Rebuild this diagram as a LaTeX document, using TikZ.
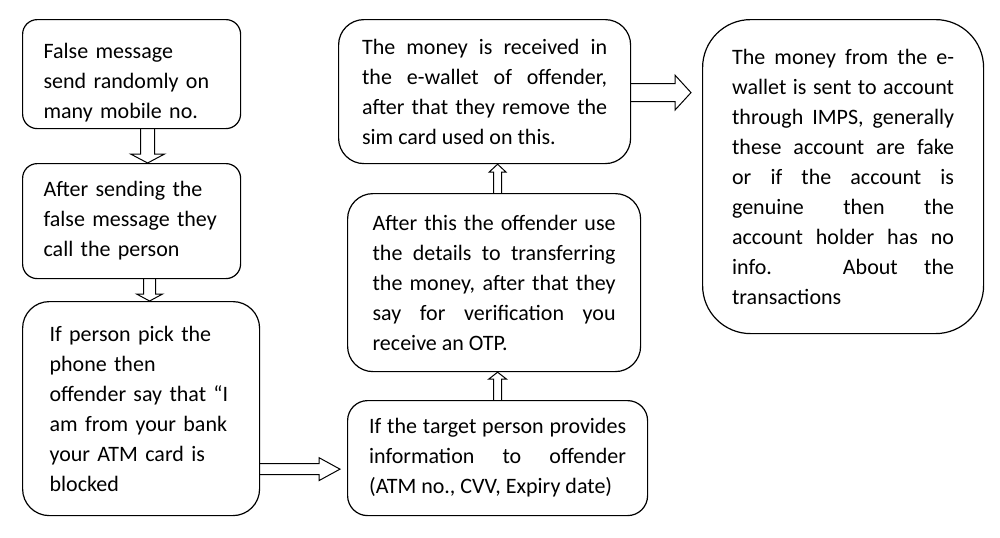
\documentclass[tikz,border=0pt]{standalone}
\usepackage{fontspec}
\setmainfont{Carlito}
\usetikzlibrary{calc}
\exhyphenpenalty=10000
\hyphenpenalty=10000

\tikzset{
  flow/.style={draw, line width=0.9pt, inner sep=0pt, anchor=north west,
    font=\fontsize{16.5pt}{22.5pt}\selectfont},
  hollow/.style={draw, line width=0.75pt, line join=miter}
}

% hollow block arrow: start, end, shaft half width, head half width, head length
\newcommand{\hollowarrow}[5]{%
  \draw[hollow] ($(#1)!#3!90:(#2)$)
    -- ($(#2)!#5!(#1)!#3!90:(#2)$)
    -- ($(#2)!#5!(#1)!#4!90:(#2)$)
    -- (#2)
    -- ($(#2)!#5!(#1)!#4!-90:(#2)$)
    -- ($(#2)!#5!(#1)!#3!-90:(#2)$)
    -- ($(#1)!#3!-90:(#2)$);
}

\begin{document}
\begin{tikzpicture}[x=0.75pt,y=-0.75pt]
  \useasboundingbox (0,0) rectangle (1000,537);

  \node[flow, rounded corners=11pt, minimum width=163.5pt, minimum height=81.75pt,
    text width=132pt, align=left] (msg) at (22,19)
    {\rule{0pt}{24pt}False message\\ send randomly on\\ many mobile no.};
  \node[flow, rounded corners=11pt, minimum width=163.5pt, minimum height=86.25pt,
    text width=132pt, align=left] (call) at (22,163)
    {After sending the\\ false message they\\ call the person};
  \node[flow, rounded corners=20pt, minimum width=177.75pt, minimum height=160.5pt,
    text width=137.25pt, align=left] (pick) at (22,301)
    {If person pick the\\ phone then\\ offender say that “I\\ am from your bank\\ your ATM card is\\ blocked};
  \node[flow, rounded corners=15pt, minimum width=225pt, minimum height=86.25pt,
    text width=192.75pt, align=justify] (info) at (347,400)
    {If the target person provides\linebreak information to offender\linebreak (ATM no., CVV, Expiry date)};
  \node[flow, rounded corners=19pt, minimum width=219.75pt, minimum height=133.5pt,
    text width=182.25pt, align=justify] (otp) at (347,193)
    {After this the offender use\linebreak the details to transferring\linebreak the money, after that they\linebreak say for verification you\linebreak receive an OTP.};
  \node[flow, rounded corners=19pt, minimum width=219pt, minimum height=108pt,
    text width=183.75pt, align=justify] (wallet) at (338,19)
    {The money is received in\linebreak the e-wallet of offender,\linebreak after that they remove the\linebreak sim card used on this.};
  \node[flow, rounded corners=36pt, minimum width=210.75pt, minimum height=235.5pt,
    text width=166.5pt, align=justify] (imps) at (702,19)
    {The money from the e-\linebreak wallet is sent to account\linebreak through IMPS, generally\linebreak these account are fake\linebreak or if the account is\linebreak genuine then the\linebreak account holder has no\linebreak info. About the\linebreak transactions};

  \coordinate (ab1) at ([xshift=12pt]msg.south);
  \coordinate (ab2) at (ab1 |- call.north);
  \coordinate (bc1) at ([xshift=13.5pt]call.south);
  \coordinate (bc2) at (bc1 |- pick.north);
  \coordinate (ce1) at ([yshift=-45.4pt]pick.east);
  \coordinate (ce2) at (ce1 -| info.west);
  \coordinate (ce3) at ([xshift=-5.25pt]ce2);
  \coordinate (ed1) at (info.north);
  \coordinate (ed2) at (ed1 |- otp.south);
  \coordinate (df1) at (ed1 |- otp.north);
  \coordinate (df2) at (df1 |- wallet.south);
  \coordinate (fg1) at ([yshift=-0.75pt]wallet.east);
  \coordinate (fg2) at (fg1 -| imps.west);
  \coordinate (fg3) at ([xshift=-8.25pt]fg2);

  \hollowarrow{ab1}{ab2}{5.25pt}{12.75pt}{6.75pt}
  \hollowarrow{bc1}{bc2}{4.5pt}{9.75pt}{5.25pt}
  \hollowarrow{ce1}{ce3}{4.1pt}{8.6pt}{15.75pt}
  \hollowarrow{ed1}{ed2}{3pt}{6.75pt}{5.25pt}
  \hollowarrow{df1}{df2}{3pt}{6.4pt}{6pt}
  \hollowarrow{fg1}{fg3}{6.75pt}{13.1pt}{12pt}
\end{tikzpicture}
\end{document}
